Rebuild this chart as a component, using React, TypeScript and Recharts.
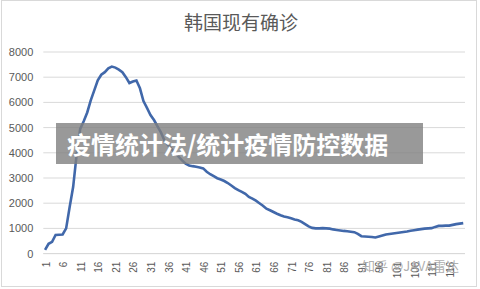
import { LineChart, Line, XAxis, YAxis, CartesianGrid } from 'recharts'

// 韩国现有确诊 — active cases per day
const activeCases = [
  150, 390, 470, 740, 750, 760, 1000, 1850, 2650, 3950,
  4950, 5250, 5600, 6080, 6480, 6880, 7100, 7200, 7350, 7420,
  7380, 7300, 7200, 7000, 6770, 6830, 6870, 6560, 6050, 5780,
  5500, 5300, 5050, 4800, 4480, 4300, 4150, 4000, 3850, 3700,
  3570, 3500, 3470, 3450, 3420, 3380, 3250, 3150, 3070, 2990,
  2940, 2880, 2800, 2700, 2600, 2520, 2450, 2370, 2250, 2180,
  2100, 2000, 1900, 1780, 1720, 1650, 1580, 1520, 1470, 1440,
  1400, 1350, 1320, 1260, 1170, 1080, 1020, 1000, 1000, 1010,
  1000, 990, 960, 940, 920, 900, 890, 870, 850, 780,
  690, 680, 670, 660, 640, 680, 720, 760, 780, 800,
  820, 840, 860, 880, 910, 930, 950, 970, 990, 1000,
  1010, 1060, 1100, 1100, 1110, 1110, 1140, 1170, 1190, 1210,
]
const xTicks = [1, 6, 11, 16, 21, 26, 31, 36, 41, 46, 51, 56, 61, 66, 71, 76, 81, 86, 91, 96, 101, 106, 111, 116]
const yTicks = [0, 1000, 2000, 3000, 4000, 5000, 6000, 7000, 8000]

const data = activeCases.map((v, i) => ({ day: i + 1, active: v }))

function RotatedTick({ x, y, payload }: any) {
  return (
    <text
      x={x + 1}
      y={y}
      transform={`rotate(-90, ${x + 1}, ${y})`}
      textAnchor="end"
      dominantBaseline="central"
      fontSize={10}
      fill="#595959"
    >
      {payload.value}
    </text>
  )
}

export default function App() {
  return (
    <div style={{ position: 'relative', width: 480, height: 289, background: '#fff', fontFamily: '"Liberation Sans", "Noto Sans CJK SC", sans-serif' }}>
      <style>{'body{margin:0}'}</style>
      <div style={{ position: 'absolute', left: 1, top: 0, width: 476, height: 287, border: '1px solid #d9d9d9', boxSizing: 'border-box' }} />
      <div style={{ position: 'absolute', left: 0, top: 10, width: 482, textAlign: 'center', fontSize: 19, lineHeight: '24px', color: '#595959', fontFamily: '"Noto Sans CJK SC", sans-serif' }}>
        韩国现有确诊
      </div>
      <LineChart width={480} height={289} data={data} margin={{ top: 52, right: 15, left: 3.3, bottom: 5.4 }}>
        <CartesianGrid vertical={false} stroke="#d9d9d9" />
        <XAxis
          dataKey="day"
          type="number"
          domain={[0.5, 120.5]}
          allowDataOverflow
          ticks={xTicks}
          interval={0}
          tick={<RotatedTick />}
          tickLine={false}
          axisLine={{ stroke: '#d9d9d9' }}
          height={30}
        />
        <YAxis
          domain={[0, 8000]}
          ticks={yTicks}
          interval={0}
          axisLine={false}
          tickLine={false}
          tickMargin={4}
          width={40}
          tick={{ fontSize: 11, fill: '#595959' }}
        />
        <Line type="linear" dataKey="active" stroke="#4168aa" strokeWidth={2.6} dot={false} isAnimationActive={false} />
      </LineChart>
      <div style={{ position: 'absolute', left: 56, top: 123, width: 367, height: 41, background: 'rgba(128,128,128,0.8)', color: '#fff', fontWeight: 700, fontSize: 24, lineHeight: '41px', paddingLeft: 11, boxSizing: 'border-box', whiteSpace: 'nowrap', fontFamily: '"Noto Sans CJK SC", sans-serif' }}>
        疫情统计法/统计疫情防控数据
      </div>
      <div style={{ position: 'absolute', left: 362, top: 258, fontSize: 13, lineHeight: '16px', color: 'rgba(165,165,165,0.9)', whiteSpace: 'nowrap', fontFamily: '"Noto Sans CJK SC", sans-serif' }}>
        知乎 @JAVA雷达
      </div>
    </div>
  )
}
